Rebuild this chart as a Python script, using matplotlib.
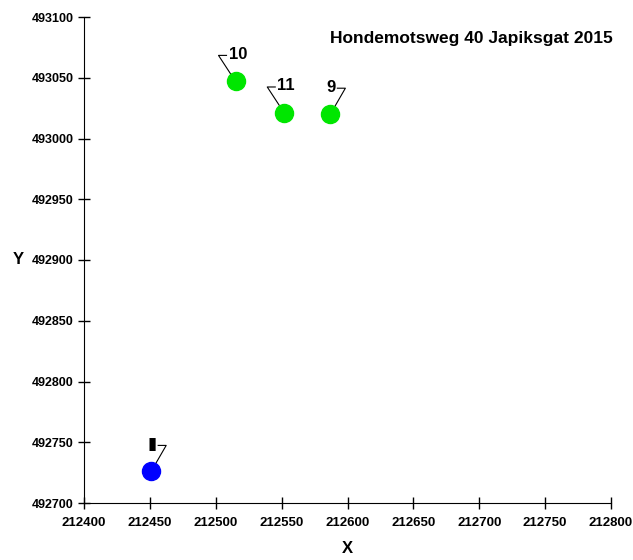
import matplotlib
matplotlib.use('Agg')
import matplotlib.pyplot as plt
import matplotlib.transforms as mtransforms

plt.rcParams['font.family'] = ['Liberation Sans', 'DejaVu Sans']

# points
xs_green = [212515, 212552, 212587]
ys_green = [493047, 493021, 493020]
labels_green = ['10', '11', '9']
xs_blue = [212451]
ys_blue = [492726]
labels_blue = ['\u25ae']

title = 'Hondemotsweg 40 Japiksgat 2015'
xticks = list(range(212400, 212801, 50))
yticks = list(range(492700, 493101, 50))

fig = plt.figure(figsize=(6.33, 5.6), dpi=100)
ax = fig.add_axes([84 / 633, 1 - 503 / 560, 527 / 633, 486 / 560])

ax.plot(xs_green, ys_green, 'o', color='#00e600', markersize=13, zorder=3)
ax.plot(xs_blue, ys_blue, 'o', color='#0000ff', markersize=13, zorder=3)


def leader(x, y, text, side):
    # offsets in pixels (1/100 inch)
    trans = fig.dpi_scale_trans + mtransforms.ScaledTranslation(x, y, ax.transData)
    if side == 'left':
        vx = [0, -17, -9]
        tx, ha = -7, 'left'
    else:
        vx = [0, 15, 7]
        tx, ha = 5, 'right'
    vy = [0, 26, 26]
    ax.plot([v / 100 for v in vx], [v / 100 for v in vy], color='black', lw=0.8,
            transform=trans, clip_on=False, zorder=2)
    ax.text(tx / 100, 27 / 100, text, transform=trans, ha=ha, va='center',
            fontsize=12, fontweight='bold', family=['Liberation Sans', 'DejaVu Sans'])


sides = ['left', 'left', 'right']
for x, y, t, s in zip(xs_green, ys_green, labels_green, sides):
    leader(x, y, t, s)
for x, y, t in zip(xs_blue, ys_blue, labels_blue):
    leader(x, y, t, 'right')

ax.set_xlim(212400, 212800)
ax.set_ylim(492700, 493100)
ax.set_xticks(xticks)
ax.set_yticks(yticks)
ax.tick_params(direction='inout', length=8, width=1)
ax.tick_params(axis='x', labelsize=9.5, pad=6)
ax.tick_params(axis='y', labelsize=9)
for lab in ax.get_xticklabels() + ax.get_yticklabels():
    lab.set_fontweight('bold')
ax.spines['top'].set_visible(False)
ax.spines['right'].set_visible(False)
ax.set_xlabel('X', fontsize=12, fontweight='bold', va='center')
ax.set_ylabel('Y', fontsize=12, fontweight='bold', rotation=0, va='center')
ax.xaxis.set_label_coords(0.5, -0.093)
ax.yaxis.set_label_coords(-0.125, 0.5)
ax.text(1.004, 0.955, title, transform=ax.transAxes, ha='right', va='center',
        fontsize=12.5, fontweight='bold')

fig.savefig('out.png', dpi=100)
